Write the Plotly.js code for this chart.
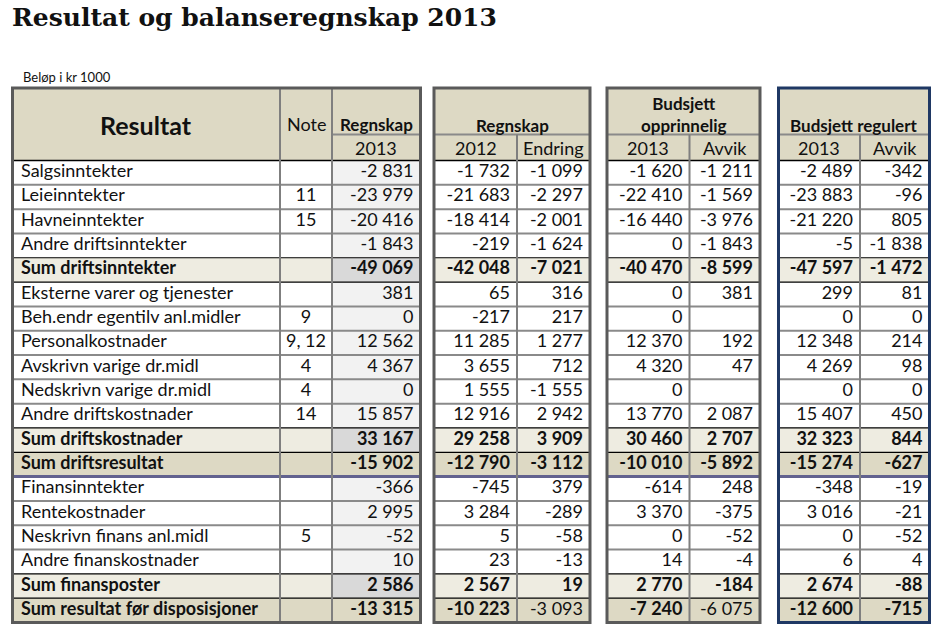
<!DOCTYPE html>
<html><head><meta charset="utf-8">
<script src="https://cdn.plot.ly/plotly-3.0.1.min.js"></script>
<style>html,body{margin:0;padding:0;background:#fff;}</style>
</head><body><div id="chart" style="width:934px;height:630px;"></div>
<script>
// ---------- DATA ----------
const rowLabels = ["Salgsinntekter","Leieinntekter","Havneinntekter","Andre driftsinntekter","Sum driftsinntekter",
  "Eksterne varer og tjenester","Beh.endr egentilv anl.midler","Personalkostnader","Avskrivn varige dr.midl",
  "Nedskrivn varige dr.midl","Andre driftskostnader","Sum driftskostnader","Sum driftsresultat",
  "Finansinntekter","Rentekostnader","Neskrivn finans anl.midl","Andre finanskostnader","Sum finansposter",
  "Sum resultat før disposisjoner"];
const notes = ["","11","15","","","","9","9, 12","4","4","14","","","","","5","","",""];
// row kinds: 0 normal, 1 light sum, 2 dark sum
const rowKinds = [0,0,0,0,1,0,0,0,0,0,0,1,2,0,0,0,0,1,2];
const regnskap2013 = [-2831,-23979,-20416,-1843,-49069,381,0,12562,4367,0,15857,33167,-15902,-366,2995,-52,10,2586,-13315];
const regnskap2012 = [-1732,-21683,-18414,-219,-42048,65,-217,11285,3655,1555,12916,29258,-12790,-745,3284,5,23,2567,-10223];
const endring = [-1099,-2297,-2001,-1624,-7021,316,217,1277,712,-1555,2942,3909,-3112,379,-289,-58,-13,19,-3093];
const budOpp2013 = [-1620,-22410,-16440,0,-40470,0,0,12370,4320,0,13770,30460,-10010,-614,3370,0,14,2770,-7240];
const budOppAvvik = [-1211,-1569,-3976,-1843,-8599,381,null,192,47,null,2087,2707,-5892,248,-375,-52,-4,-184,-6075];
const budReg2013 = [-2489,-23883,-21220,-5,-47597,299,0,12348,4269,0,15407,32323,-15274,-348,3016,0,6,2674,-12600];
const budRegAvvik = [-342,-96,805,-1838,-1472,81,0,214,98,0,450,844,-627,-19,-21,-52,4,-88,-715];
const headerMain = ["Resultat","Note","Regnskap","Regnskap","Budsjett<br>opprinnelig","Budsjett regulert"];
const headerSub = ["2013","2012","Endring","2013","Avvik","2013","Avvik"];
const chartTitle = "Resultat og balanseregnskap 2013";
const unitNote = "Beløp i kr 1000";

// ---------- LAYOUT GEOMETRY ----------
const FONT = "Lato, 'Open Sans', sans-serif";
const TXT = "#111111";
const blocks = [
  {x0:12.5, x1:420.5, edges:[12.5,280,332,420.5], border:"#5a5a5a"},
  {x0:434, x1:590, edges:[434,517,590], border:"#5a5a5a"},
  {x0:607, x1:760, edges:[607,689.5,760], border:"#5a5a5a"},
  {x0:778.5, x1:929.5, edges:[778.5,860,929.5], border:"#1f3864"}
];
const headTop = 88, headMid = 134.5, bodyTop = 160.5, bodyBot = 622.5;
const nRows = rowLabels.length;
const rowH = (bodyBot - bodyTop) / nRows;
const rowTop = r => bodyTop + r * rowH;
const rowMid = r => bodyTop + (r + 0.5) * rowH;

const numCols = [
  {vals: regnskap2013, right: 420.5},
  {vals: regnskap2012, right: 517},
  {vals: endring, right: 590, plainLast: true},
  {vals: budOpp2013, right: 689.5},
  {vals: budOppAvvik, right: 760, plainLast: true},
  {vals: budReg2013, right: 860},
  {vals: budRegAvvik, right: 929.5}
];

function fmt(v) {
  if (v === null || v === undefined) return "";
  const s = String(Math.abs(v)).replace(/\B(?=(\d{3})+(?!\d))/g, "\u00a0");
  return (v < 0 ? "-" : "") + s;
}

const rowFill = k => k === 0 ? "#ffffff" : (k === 1 ? "#eeece1" : "#ddd9c4");
const regFill = k => k === 0 ? "#f2f2f2" : (k === 1 ? "#d9d9d9" : "#ddd9c4");

const shapes = [];
function rect(x0,y0,x1,y1,fill){shapes.push({type:"rect",xref:"x",yref:"y",x0,y0,x1,y1,fillcolor:fill,line:{width:0},layer:"below"});}
function line(x0,y0,x1,y1,color,w){shapes.push({type:"line",xref:"x",yref:"y",x0,y0,x1,y1,line:{color,width:w}});}

// fills
blocks.forEach(b => rect(b.x0, headTop, b.x1, bodyTop, "#ddd9c4"));
for (let r = 0; r < nRows; r++) {
  blocks.forEach(b => rect(b.x0, rowTop(r), b.x1, rowTop(r+1), rowFill(rowKinds[r])));
  rect(332, rowTop(r), 420.5, rowTop(r+1), regFill(rowKinds[r]));
}
// horizontal row lines
for (let r = 1; r < nRows; r++) {
  let c = "#8a8a8a", w = 2;
  if (rowKinds[r-1] || rowKinds[r]) { c = "#000000"; w = 1.2; }
  if (rowKinds[r-1] === 2) { c = "#62628f"; w = 3; }
  blocks.forEach(b => line(b.x0, rowTop(r), b.x1, rowTop(r), c, w));
}
blocks.forEach(b => line(b.x0, bodyTop, b.x1, bodyTop, "#000000", 1.5));
// header mid line
line(332, headMid, 420.5, headMid, "#8a8a8a", 2);
blocks.slice(1).forEach(b => line(b.x0, headMid, b.x1, headMid, "#8a8a8a", 2));
// vertical inner lines
line(280, headTop, 280, bodyBot, "#7f7f7f", 2);
line(332, headTop, 332, bodyBot, "#7f7f7f", 2);
blocks.slice(1).forEach(b => line(b.edges[1], headMid, b.edges[1], bodyBot, "#7f7f7f", 2));
// outer borders
blocks.forEach(b => shapes.push({type:"rect",xref:"x",yref:"y",x0:b.x0,y0:headTop,x1:b.x1,y1:bodyBot,
  fillcolor:"rgba(0,0,0,0)",line:{color:b.border,width:3}}));

// ---------- TRACES ----------
const ys = rowLabels.map((_, r) => rowMid(r));
const bold = (s, r) => rowKinds[r] ? "<b>" + s + "</b>" : s;
const traces = [];
traces.push({type:"scatter",mode:"text",x:rowLabels.map(()=>21),y:ys,
  text:rowLabels.map((s,r)=>bold(s,r)),textposition:"middle right",
  textfont:{family:FONT,size:18,color:TXT},hoverinfo:"skip",showlegend:false,cliponaxis:false});
traces.push({type:"scatter",mode:"text",x:notes.map(()=>306),y:ys,text:notes,textposition:"middle center",
  textfont:{family:FONT,size:18,color:TXT},hoverinfo:"skip",showlegend:false,cliponaxis:false});
numCols.forEach(col => {
  traces.push({type:"scatter",mode:"text",x:col.vals.map(()=>col.right-7),y:ys,
    text:col.vals.map((v,r)=>{const s=fmt(v); if(col.plainLast && r===nRows-1) return s; return bold(s,r);}),
    textposition:"middle left",textfont:{family:FONT,size:18,color:TXT},hoverinfo:"skip",showlegend:false,cliponaxis:false});
});

// ---------- HEADER ANNOTATIONS ----------
const ann = [];
function A(text,x,y,size,b,xanchor){ann.push({text:b?"<b>"+text+"</b>":text,x,y,xref:"x",yref:"y",showarrow:false,
  xanchor:xanchor||"center",yanchor:"middle",font:{family:FONT,size,color:TXT}});}
A(headerMain[0], 146, 125, 25, true);
A(headerMain[1], 306, 124, 18, false);
A(headerMain[2], 376, 124, 17, true);
A(headerMain[3], 512, 125, 17, true);
A(headerMain[4], 683.5, 114, 17, true);
A(headerMain[5], 854, 125, 17, true);
const subX = [376, 475.5, 553.5, 648, 725, 819, 895];
subX.forEach((x,i)=>A(headerSub[i], x, 148, 18, false));
A(unitNote, 21, 77, 13, false, "left");

const layout = {
  width:934, height:630, margin:{l:0,r:0,t:0,b:0},
  paper_bgcolor:"#ffffff", plot_bgcolor:"#ffffff",
  title:{text:"<b>"+chartTitle+"</b>", x:12/934, xanchor:"left", xref:"paper", y:1-17/630, yanchor:"middle", yref:"container",
    font:{family:"'DejaVu Serif', serif", size:25, color:"#111111"}},
  xaxis:{range:[0,934],visible:false,fixedrange:true},
  yaxis:{range:[630,0],visible:false,fixedrange:true},
  shapes, annotations:ann, showlegend:false
};
Plotly.newPlot("chart", traces, layout, {staticPlot:true, displayModeBar:false});
</script></body></html>
